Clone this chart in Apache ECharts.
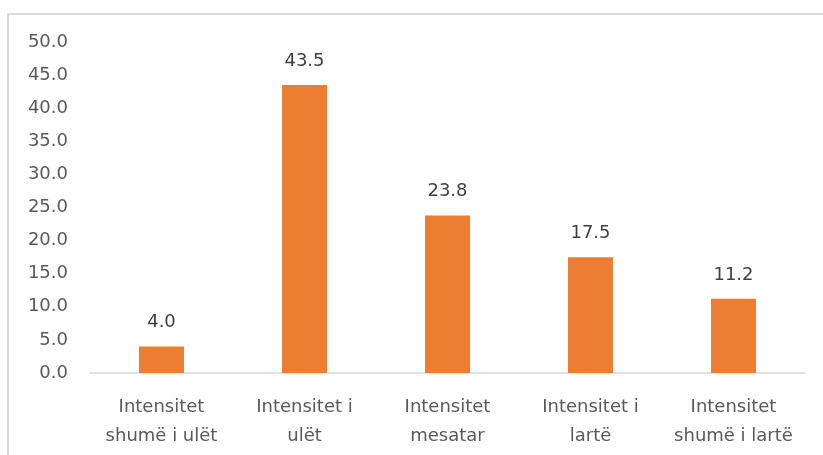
<!DOCTYPE html>
<html><head><meta charset="utf-8">
<script src="https://cdn.jsdelivr.net/npm/echarts@6/dist/echarts.min.js"></script>
<style>html,body{margin:0;padding:0;background:#fff}#c{width:823px;height:455px}</style>
</head><body><div id="c"></div>
<script>
const categories = ["Intensitet\nshumë i ulët", "Intensitet i\nulët", "Intensitet\nmesatar", "Intensitet i\nlartë", "Intensitet\nshumë i lartë"];
const values = [4.0, 43.5, 23.8, 17.5, 11.2];
const yMin = 0, yMax = 50, yStep = 5;

const chart = echarts.init(document.getElementById('c'), null, {renderer: 'canvas'});
chart.setOption({
  animation: false,
  backgroundColor: '#fff',
  textStyle: {fontFamily: 'DejaVu Sans'},
  graphic: [{type: 'rect', shape: {x: 8, y: 14, width: 840, height: 470}, style: {fill: 'none', stroke: '#D9D9D9', lineWidth: 2}}],
  grid: {left: 90, right: 18, top: 42, bottom: 82},
  xAxis: {
    type: 'category', data: categories,
    axisLine: {lineStyle: {color: '#D9D9D9', width: 1.5}},
    axisTick: {show: false},
    axisLabel: {color: '#595959', fontSize: 18, lineHeight: 29, margin: 20, interval: 0, fontFamily: 'DejaVu Sans'}
  },
  yAxis: {
    type: 'value', min: yMin, max: yMax, interval: yStep,
    splitLine: {show: false}, axisLine: {show: false}, axisTick: {show: false},
    axisLabel: {color: '#595959', fontSize: 18, margin: 22, formatter: v => v.toFixed(1), fontFamily: 'DejaVu Sans'}
  },
  series: [{
    type: 'bar', data: values, barWidth: 45,
    itemStyle: {color: '#ED7D31'},
    label: {show: true, position: 'top', distance: 15, color: '#404040', fontSize: 18, formatter: p => p.value.toFixed(1), fontFamily: 'DejaVu Sans'}
  }]
});
</script></body></html>
